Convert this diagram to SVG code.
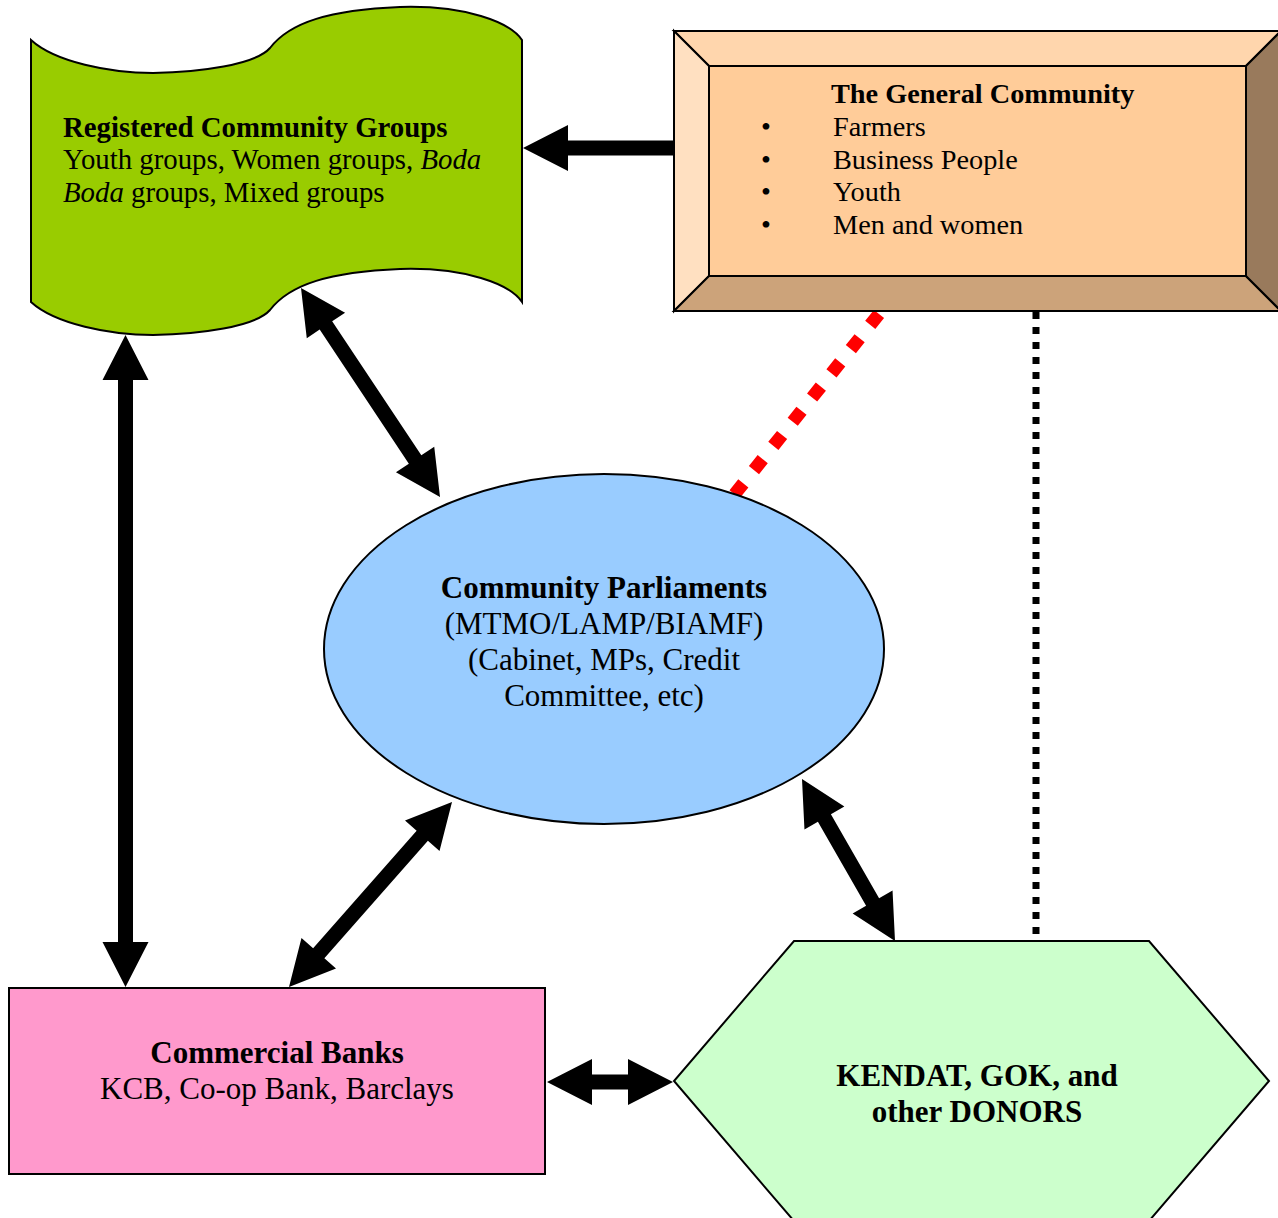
<svg xmlns="http://www.w3.org/2000/svg" width="1278" height="1218" viewBox="0 0 1278 1218">
<style>
text{font-family:"Liberation Serif","Times New Roman",serif;fill:#000}
.t28{font-size:28.3px}
.td{font-size:28.8px}
.t31{font-size:31px}
.b{font-weight:bold}
.ol{stroke:#000;stroke-width:2}
.arr{fill:#000}
</style>
<rect width="1278" height="1218" fill="#fff"/>
<g id="connectors">
<line x1="1036" y1="312" x2="1036" y2="941" stroke="#000" stroke-width="7" stroke-dasharray="7,8"/>
<line x1="879" y1="314" x2="734" y2="495" stroke="#f00" stroke-width="13" stroke-dasharray="14,17"/>
<polygon class="arr" points="523,148 568,125 568,140.5 674,140.5 674,155.5 568,155.5 568,171"/>
<polygon class="arr" transform="translate(301,288) rotate(56.37)" points="0,0 45,-23 45,-7.5 206,-7.5 206,-23 251,0 206,23 206,7.5 45,7.5 45,23"/>
<polygon class="arr" transform="translate(125.5,335) rotate(90)" points="0,0 45,-23 45,-7.5 607,-7.5 607,-23 652,0 607,23 607,7.5 45,7.5 45,23"/>
<polygon class="arr" transform="translate(289,987) rotate(-48.62)" points="0,0 45,-23 45,-7.5 201.6,-7.5 201.6,-23 246.6,0 201.6,23 201.6,7.5 45,7.5 45,23"/>
<polygon class="arr" transform="translate(802,779) rotate(60.14)" points="0,0 45,-23 45,-7.5 141.8,-7.5 141.8,-23 186.8,0 141.8,23 141.8,7.5 45,7.5 45,23"/>
<polygon class="arr" transform="translate(547,1082)" points="0,0 45,-23 45,-7.5 81,-7.5 81,-23 126,0 81,23 81,7.5 45,7.5 45,23"/>
</g>
<g id="registered-groups">
<path class="ol" fill="#99CC00" d="M31,40 C55,62 110,73 153,73 C200,72 255,65 270,48 C290,22 330,10 400,7 C465,5 510,22 522,40 L522,302 C510,284 465,267 400,269 C330,272 290,284 270,310 C255,327 200,334 153,335 C110,335 55,324 31,302 Z"/>
<text class="td b" x="63" y="137">Registered Community Groups</text>
<text class="td" x="63" y="169">Youth groups, Women groups, <tspan font-style="italic">Boda</tspan></text>
<text class="td" x="63" y="202"><tspan font-style="italic">Boda</tspan> groups, Mixed groups</text>
</g>
<g id="general-community">
<polygon fill="#FFCC99" points="709,66 1246,66 1246,276 709,276"/>
<polygon class="ol" fill="#FFD6AD" points="674,31 1281,31 1246,66 709,66"/>
<polygon class="ol" fill="#FFE0C1" points="674,31 709,66 709,276 674,311"/>
<polygon class="ol" fill="#CCA37A" points="674,311 709,276 1246,276 1281,311"/>
<polygon class="ol" fill="#997A5C" points="1281,31 1246,66 1246,276 1281,311"/>
<rect class="ol" fill="none" x="709" y="66" width="537" height="210"/>
<rect class="ol" fill="none" x="674" y="31" width="607" height="280"/>
<text class="t28 b" x="831" y="103">The General Community</text>
<g class="t28">
<text x="766" y="136" text-anchor="middle">•</text><text x="833" y="136">Farmers</text>
<text x="766" y="168.5" text-anchor="middle">•</text><text x="833" y="168.5">Business People</text>
<text x="766" y="201" text-anchor="middle">•</text><text x="833" y="201">Youth</text>
<text x="766" y="233.5" text-anchor="middle">•</text><text x="833" y="233.5">Men and women</text>
</g>
</g>
<g id="community-parliaments">
<ellipse class="ol" fill="#99CCFF" cx="604" cy="649" rx="280" ry="175"/>
<text class="t31 b" x="604" y="598" text-anchor="middle">Community Parliaments</text>
<text class="t31" x="604" y="634" text-anchor="middle">(MTMO/LAMP/BIAMF)</text>
<text class="t31" x="604" y="670" text-anchor="middle">(Cabinet, MPs, Credit</text>
<text class="t31" x="604" y="706" text-anchor="middle">Committee, etc)</text>
</g>
<g id="commercial-banks">
<rect class="ol" fill="#FF99CC" x="9" y="988" width="536" height="186"/>
<text class="t31 b" x="277" y="1063" text-anchor="middle">Commercial Banks</text>
<text class="t31" x="277" y="1099" text-anchor="middle">KCB, Co-op Bank, Barclays</text>
</g>
<g id="donors">
<polygon class="ol" fill="#CCFFCC" points="794,941 1149,941 1269,1081 1149,1221 794,1221 674,1081"/>
<text class="t31 b" x="977" y="1086" text-anchor="middle">KENDAT, GOK, and</text>
<text class="t31 b" x="977" y="1122" text-anchor="middle">other DONORS</text>
</g>
</svg>
